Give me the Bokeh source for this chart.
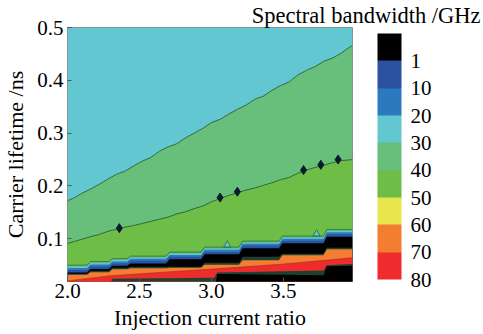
from bokeh.plotting import figure
from bokeh.models import ColorBar, LinearColorMapper, FixedTicker, Range1d, PrintfTickFormatter
from bokeh.embed import file_html
from bokeh.resources import INLINE

# ---------------- data ----------------
band_labels = ["1", "10", "20", "30", "40", "50", "60", "70", "80"]
band_colors = ["#000000", "#2a52a1", "#2d79bf", "#63c7d2", "#67bf7b",
               "#6dbd46", "#e8e64c", "#f37e32", "#ee2b2d"]
BLACK, DKBLUE, BLUE, CYAN, GREEN1, GREEN2, YELLOW, ORANGE, RED = band_colors
DARK_GREEN = "#1d4030"
LINE_GREEN = "#2b6a3d"

x_ticks = [2.0, 2.5, 3.0, 3.5]
y_ticks = [0.1, 0.2, 0.3, 0.4, 0.5]

# contour lines (30 GHz and 40 GHz)
line_x = [2.00, 2.05, 2.10, 2.16, 2.22, 2.28, 2.34, 2.40, 2.46, 2.52, 2.58, 2.64,
          2.70, 2.76, 2.82, 2.88, 2.94, 3.00, 3.06, 3.12, 3.18, 3.24, 3.30, 3.36,
          3.42, 3.48, 3.54, 3.60, 3.66, 3.72, 3.78, 3.84, 3.90, 3.95, 3.98]
upper_y = [0.172, 0.178, 0.186, 0.194, 0.203, 0.213, 0.222, 0.228, 0.238, 0.247,
           0.254, 0.266, 0.274, 0.280, 0.291, 0.300, 0.309, 0.320, 0.326, 0.336,
           0.345, 0.353, 0.364, 0.370, 0.381, 0.390, 0.397, 0.410, 0.419, 0.426,
           0.436, 0.442, 0.451, 0.461, 0.466]
lower_y = [0.091, 0.095, 0.099, 0.104, 0.108, 0.114, 0.118, 0.122, 0.125, 0.129,
           0.133, 0.137, 0.141, 0.147, 0.151, 0.157, 0.162, 0.170, 0.176, 0.182,
           0.187, 0.192, 0.196, 0.201, 0.206, 0.212, 0.216, 0.224, 0.230, 0.235,
           0.239, 0.244, 0.248, 0.249, 0.250]

marker_x = [2.36, 3.06, 3.18, 3.64, 3.76, 3.88]
marker_y = [0.120, 0.178, 0.189, 0.230, 0.240, 0.250]

# stepped low-lifetime strip: step edges and level of each band top per step
step_x = [2.00, 2.148, 2.30, 2.426, 2.697, 2.94, 3.204, 3.481, 3.79, 3.98]
top_40 = [0.0499, 0.0566, 0.0622, 0.0670, 0.0746, 0.0841, 0.0954, 0.1049, 0.1173]
top_30 = [0.0471, 0.0537, 0.0594, 0.0641, 0.0717, 0.0812, 0.0926, 0.1021, 0.1144]
top_20 = [0.0448, 0.0514, 0.0571, 0.0619, 0.0694, 0.0789, 0.0903, 0.0998, 0.1122]
top_10 = [0.0410, 0.0476, 0.0533, 0.0581, 0.0657, 0.0751, 0.0865, 0.0960, 0.1083]
top_1 = [0.0362, 0.0429, 0.0486, 0.0533, 0.0609, 0.0704, 0.0818, 0.0913, 0.1036]
black_bottom = [0.0338, 0.0395, 0.0452, 0.0471, 0.0471, 0.0547, 0.0660, 0.0717, 0.0831]
orange_top = [0.0319, 0.0366, 0.0423, 0.0442, 0.0452, 0.0509, 0.0594, 0.0689, 0.0803]

red_top_x = [2.00, 2.30, 3.03, 3.50, 3.98]
red_top_y = [0.020, 0.030, 0.043, 0.052, 0.064]
red_bot_x = [2.00, 2.29, 2.31, 3.02, 3.04, 3.78, 3.80, 3.98]
red_bot_y = [0.000, 0.000, 0.024, 0.026, 0.036, 0.040, 0.050, 0.052]
blk_bot_x = [2.00, 3.02, 3.04, 3.78, 3.80, 3.98]
blk_bot_y = [0.000, 0.000, 0.033, 0.031, 0.048, 0.049]

spike_x = [3.11, 3.73]
spike_base = [0.084, 0.105]
spike_top = [0.096, 0.117]

X0, X1 = 2.0, 3.98
Y0, Y1 = 0.019, 0.5
FONT = "Liberation Serif"

# ---------------- figure ----------------
p = figure(width=483, height=334, x_range=Range1d(X0, X1), y_range=Range1d(Y0, Y1),
           output_backend="svg", toolbar_location=None,
           min_border_left=67, min_border_right=131, min_border_top=27, min_border_bottom=53)

p.title.text = "Spectral bandwidth /GHz"
p.title.align = "right"
p.title.offset = -128
p.title.standoff = 0
p.title.text_font = FONT
p.title.text_font_size = "22.5px"
p.title.text_font_style = "normal"
p.title.text_color = "black"

p.grid.visible = False
p.outline_line_color = "#8a8a8a"
p.outline_line_width = 1


def below(xs, ys, color):
    p.patch(list(xs) + [X1, X0], list(ys) + [0.0, 0.0], fill_color=color, line_color=None)


def steps(levels, d=0.012):
    px, py = [], []
    n = len(levels)
    for i, v in enumerate(levels):
        px += [step_x[i] + (d if i > 0 else 0), step_x[i + 1] - (d if i < n - 1 else 0)]
        py += [v, v]
    return px, py


# top region and the two smooth bands
p.patch(line_x + [X1, X0], upper_y + [Y1, Y1], fill_color=CYAN, line_color=None)
below(line_x, upper_y, GREEN1)
below(line_x, lower_y, GREEN2)

# stepped strip, painted from top boundary downward
for lev, col in [(top_40, GREEN1), (top_30, CYAN), (top_20, BLUE), (top_10, DKBLUE),
                 (top_1, BLACK), (black_bottom, DARK_GREEN), (orange_top, ORANGE)]:
    sx, sy = steps(lev)
    below(sx, sy, col)
below(red_top_x, red_top_y, RED)
below(red_bot_x, red_bot_y, DARK_GREEN)
below(blk_bot_x, blk_bot_y, BLACK)

# spikes
for xc, b, t in zip(spike_x, spike_base, spike_top):
    p.patch([xc - 0.025, xc, xc + 0.025], [b, t, b], fill_color=CYAN,
            line_color=LINE_GREEN, line_width=0.8)

# contour lines
p.line(line_x, upper_y, line_color=LINE_GREEN, line_width=1)
p.line(line_x, lower_y, line_color=LINE_GREEN, line_width=1)
sx, sy = steps(top_40)
p.line(sx, sy, line_color=LINE_GREEN, line_width=0.8)
p.line(red_top_x, red_top_y, line_color="#a03020", line_width=0.6)

p.scatter(marker_x, marker_y, marker="diamond", size=9, color="#0b1a2a")

# axes
for ax in (p.xaxis[0], p.yaxis[0]):
    ax.axis_line_color = None
    ax.major_tick_in = 4
    ax.major_tick_out = 0
    ax.major_tick_line_color = "#555555"
    ax.minor_tick_line_color = None
    ax.major_label_text_font = FONT
    ax.major_label_text_font_size = "21px"
    ax.major_label_text_color = "black"
    ax.axis_label_text_font = FONT
    ax.axis_label_text_font_size = "22px"
    ax.axis_label_text_font_style = "normal"
    ax.axis_label_text_color = "black"
    ax.formatter = PrintfTickFormatter(format="%.1f")

p.xaxis.ticker = FixedTicker(ticks=x_ticks)
p.yaxis.ticker = FixedTicker(ticks=y_ticks)
p.xaxis.axis_label = "Injection current ratio"
p.yaxis.axis_label = "Carrier lifetime /ns"
p.xaxis.major_label_standoff = 2
p.xaxis.axis_label_standoff = 4
p.yaxis.major_label_standoff = 4
p.yaxis.axis_label_standoff = 6

# colour bar
cb_palette = list(reversed(band_colors))
mapper = LinearColorMapper(palette=cb_palette, low=0, high=len(cb_palette))
overrides = {i: lab for i, lab in enumerate(reversed(band_labels))}
cb = ColorBar(color_mapper=mapper, ticker=FixedTicker(ticks=list(range(len(band_labels)))),
              major_label_overrides=overrides, width=24, height=246, location=(25, 2),
              padding=0, margin=0, label_standoff=9, major_tick_line_color=None,
              minor_tick_line_color=None, bar_line_color=None, border_line_color=None,
              background_fill_color=None, major_label_text_font=FONT,
              major_label_text_font_size="21px", major_label_text_color="black")
p.add_layout(cb, "right")

open("out.html", "w").write(file_html(p, INLINE))
